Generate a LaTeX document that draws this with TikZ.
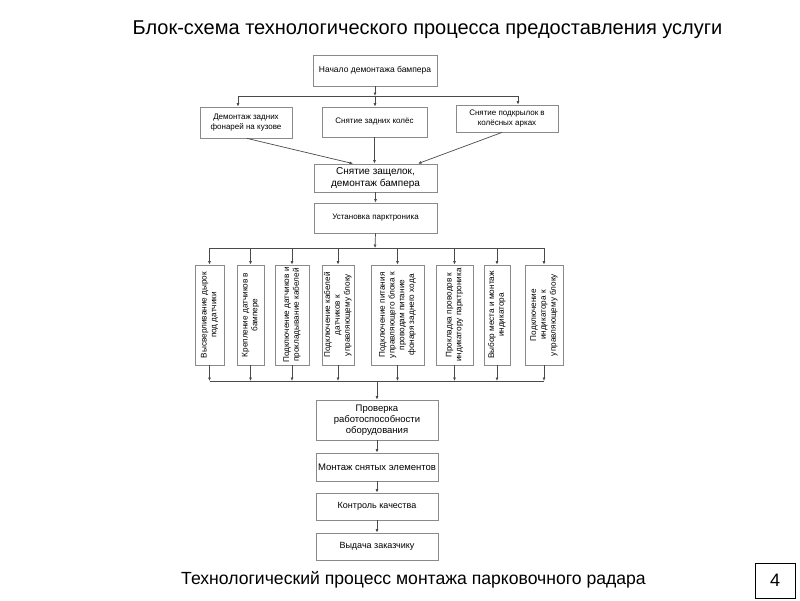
\documentclass[tikz,border=0pt]{standalone}
\usepackage{fontspec}
\setmainfont{Liberation Sans}
\usetikzlibrary{arrows.meta}
\definecolor{boxgray}{HTML}{8A8A8A}
\definecolor{linegray}{HTML}{4A4A4A}
\begin{document}
\begin{tikzpicture}[x=1pt,y=-1pt,
  box/.style={draw=boxgray, line width=0.8pt, fill=white, inner sep=1pt, align=center,
    font=\fontsize{8}{9.5}\selectfont},
  vbox/.style={box, minimum height=100pt, font=\fontsize{8.2}{9.8}\selectfont},
  arr/.style={draw=linegray, line width=0.7pt, -{Latex[length=3.5pt,width=3pt]}},
  ln/.style={draw=linegray, line width=0.7pt}]
\useasboundingbox[fill=white] (0,0) rectangle (800,600);

% title and footer
\node (title) at (427.5,30) {\fontsize{20}{24}\selectfont Блок-схема технологического процесса предоставления услуги};
\node (foot) at (413.5,580) {\fontsize{17.6}{21}\selectfont Технологический процесс монтажа парковочного радара};
\node[draw=black, line width=0.6pt, minimum width=40pt, minimum height=35pt, inner sep=0pt,
  font=\fontsize{18}{20}\selectfont] (page) at (775,580.5) {4};

% top part
\node[box, minimum width=124pt, minimum height=31pt, font=\fontsize{8.5}{10}\selectfont] (n0) at (375,70.5) {Начало демонтажа бампера};
\node[box, minimum width=92pt, minimum height=31pt] (L) at (246,122.5) {Демонтаж задних\\фонарей на кузове};
\node[box, minimum width=105pt, minimum height=30pt] (M) at (374.5,122) {Снятие задних колёс};
\node[box, minimum width=102pt, minimum height=27pt] (R) at (507,118.5) {Снятие подкрылок в\\колёсных арках};
\node[box, minimum width=123pt, minimum height=28pt, font=\fontsize{10}{11.5}\selectfont] (n4) at (375.5,178) {Снятие защелок,\\демонтаж бампера};
\node[box, minimum width=123pt, minimum height=30pt] (n5) at (375.5,218) {Установка парктроника};

\coordinate (j1) at (375,96);
\coordinate (jl) at (238,96);
\coordinate (jr) at (518,96);
\draw[arr] (n0.south) -- (j1);
\draw[ln] (jl) -- (jr);
\draw[arr] (jl) -- (jl |- L.north);
\draw[arr] (j1) -- (j1 |- M.north);
\draw[arr] (jr) -- (jr |- R.north);
\draw[arr] ([xshift=1pt]L.south) -- ([xshift=-22.5pt]n4.north);
\draw[arr] (M.south) -- (M.south |- n4.north);
\draw[arr] ([xshift=-5pt]R.south) -- ([xshift=42.5pt]n4.north);
\draw[arr] (n4) -- (n5);

% vertical boxes
\node[vbox, minimum width=29pt] (v1) at (209.5,315) {\rotatebox{90}{\begin{tabular}{@{}c@{}}Высверливание дырок\\под датчики\end{tabular}}};
\node[vbox, minimum width=27pt] (v2) at (250.5,315) {\rotatebox{90}{\begin{tabular}{@{}c@{}}Крепление датчиков в\\бампере\end{tabular}}};
\node[vbox, minimum width=34pt] (v3) at (292,315) {\rotatebox{90}{\begin{tabular}{@{}c@{}}Подключение датчиков и\\прокладывание кабелей\end{tabular}}};
\node[vbox, minimum width=32pt] (v4) at (338,315) {\rotatebox{90}{\begin{tabular}{@{}c@{}}Подключение кабелей\\датчиков к\\управляющему блоку\end{tabular}}};
\node[vbox, minimum width=53pt] (v5) at (397.5,315) {\rotatebox{90}{\begin{tabular}{@{}c@{}}Подключение питания\\управляющего блока к\\проводам питание\\фонаря заднего хода\end{tabular}}};
\node[vbox, minimum width=37pt] (v6) at (454.5,315) {\rotatebox{90}{\begin{tabular}{@{}c@{}}Прокладка проводов к\\индикатору парктроника\end{tabular}}};
\node[vbox, minimum width=26pt] (v7) at (497,315) {\rotatebox{90}{\begin{tabular}{@{}c@{}}Выбор места и монтаж\\индикатора\end{tabular}}};
\node[vbox, minimum width=38pt] (v8) at (544,315) {\rotatebox{90}{\begin{tabular}{@{}c@{}}Подключение\\индикатора к\\управляющему блоку\end{tabular}}};

\coordinate (j2) at (375,248);
\coordinate (b1) at (377,381);
\draw[arr] (n5.south) -- (j2);
\draw[ln] (v1.north |- j2) -- (v8.north |- j2);
\foreach \v in {v1,v2,v3,v4,v5,v6,v7,v8}{
  \draw[arr] (\v.north |- j2) -- (\v.north);
  \draw[arr] (\v.south) -- (\v.south |- b1);
}
\draw[ln] (v1.south |- b1) -- (v8.south |- b1);

% bottom part
\node[box, minimum width=122pt, minimum height=40pt, font=\fontsize{9.5}{11}\selectfont] (P) at (377,420) {Проверка\\работоспособности\\оборудования};
\node[box, minimum width=122pt, minimum height=28pt, font=\fontsize{9.5}{11}\selectfont] (Mo) at (377,467) {Монтаж снятых элементов};
\node[box, minimum width=122pt, minimum height=27pt, font=\fontsize{9}{11}\selectfont] (K) at (377,506.5) {Контроль качества};
\node[box, minimum width=122pt, minimum height=27pt, font=\fontsize{9}{11}\selectfont] (V) at (377,546.5) {Выдача заказчику};

\draw[arr] (b1) -- (P.north);
\draw[arr] (P) -- (Mo);
\draw[arr] (Mo) -- (K);
\draw[arr] (K) -- (V);
\end{tikzpicture}
\end{document}
